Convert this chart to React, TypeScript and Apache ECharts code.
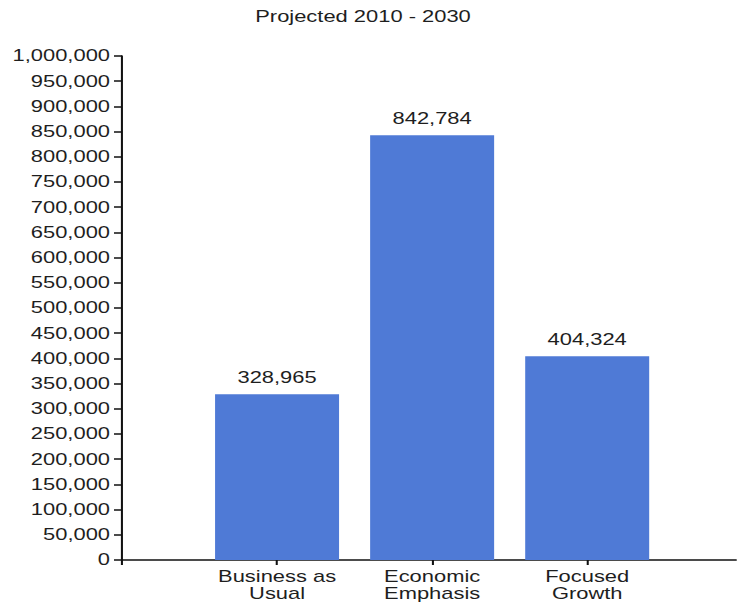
import React, { useEffect, useRef } from "react";
import * as echarts from "echarts";

// Projected totals per scenario, 2010 - 2030
const categories = ["Business as Usual", "Economic Emphasis", "Focused Growth"];
const categoryLabels = ["Business as\nUsual", "Economic\nEmphasis", "Focused\nGrowth"];
const projectedValues = [328965, 842784, 404324];
const yTicks = { min: 0, max: 1000000, step: 50000 };
const chartTitle = "Projected 2010 - 2030";

// The chart is drawn on a narrower canvas and widened horizontally.
const STRETCH = 1.37;
const PAGE_W = 737;
const PAGE_H = 603;
const INNER_W = PAGE_W / STRETCH;

const fmt = (v: number) => Math.round(v).toLocaleString("en-US");
const FONT = "'Liberation Sans', Arial, sans-serif";
const TEXT = "#1e1e1e";

export default function App() {
  const ref = useRef<HTMLDivElement>(null);

  useEffect(() => {
    if (!ref.current) return;
    const chart = echarts.init(ref.current, undefined, { renderer: "svg" });
    const px = (realX: number) => realX / STRETCH;

    chart.setOption({
      animation: false,
      backgroundColor: "#ffffff",
      textStyle: { fontFamily: FONT },
      graphic: [
        {
          type: "text",
          x: px(363),
          y: 9,
          style: {
            text: chartTitle,
            fontSize: 16,
            fontFamily: FONT,
            fill: TEXT,
            textAlign: "center",
            textVerticalAlign: "top",
          },
        },
      ],
      grid: {
        left: px(122),
        right: INNER_W - px(736),
        top: 56,
        bottom: 43,
        containLabel: false,
      },
      xAxis: {
        type: "value",
        min: 0,
        max: 3.96,
        interval: 1,
        splitLine: { show: false },
        axisLine: { show: true, lineStyle: { color: "#111", width: 1.5 } },
        axisTick: {
          show: true,
          length: 5,
          customValues: [0, 1, 2, 3],
          lineStyle: { color: "#111", width: 1.5 },
        },
        axisLabel: {
          show: true,
          customValues: [1, 2, 3],
          margin: 8,
          fontSize: 16,
          lineHeight: 17,
          color: TEXT,
          fontFamily: FONT,
          align: "center",
          formatter: (v: number) => categoryLabels[Math.round(v) - 1] ?? "",
        },
      },
      yAxis: {
        type: "value",
        min: yTicks.min,
        max: yTicks.max,
        interval: yTicks.step,
        splitLine: { show: false },
        axisLine: { show: true, lineStyle: { color: "#111", width: 1.5 } },
        axisTick: { show: true, length: px(8), lineStyle: { color: "#111", width: 1.5 } },
        axisLabel: {
          margin: px(12),
          fontSize: 16,
          color: TEXT,
          fontFamily: FONT,
          formatter: (v: number) => fmt(v),
        },
      },
      series: [
        {
          type: "bar",
          name: "Projected",
          data: categories.map((c, i) => ({ name: c, value: [i + 1, projectedValues[i]] })),
          barWidth: px(124),
          itemStyle: { color: "#4f7ad6" },
          label: {
            show: true,
            position: "top",
            distance: 9,
            fontSize: 16,
            color: TEXT,
            fontFamily: FONT,
            formatter: (p: any) => fmt(p.value[1]),
          },
        },
      ],
    });

    return () => chart.dispose();
  }, []);

  return (
    <div
      style={{
        position: "fixed",
        left: 0,
        top: 0,
        width: PAGE_W,
        height: PAGE_H,
        overflow: "hidden",
        background: "#fff",
      }}
    >
      <div
        ref={ref}
        style={{
          width: INNER_W,
          height: PAGE_H,
          transform: `scaleX(${STRETCH})`,
          transformOrigin: "0 0",
        }}
      />
    </div>
  );
}
